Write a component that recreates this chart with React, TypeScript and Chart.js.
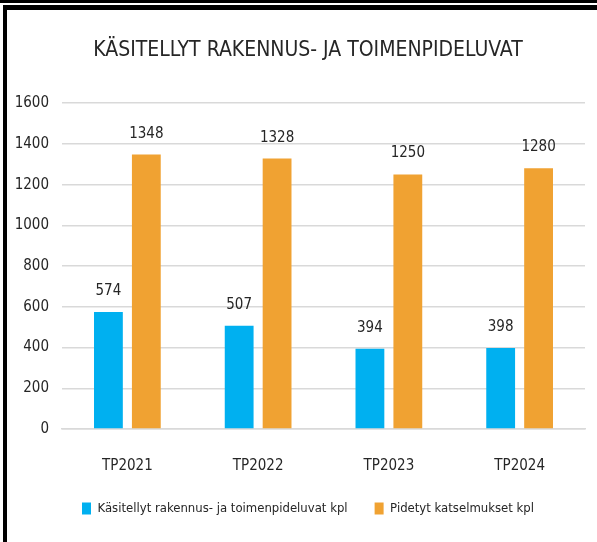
import React, { useEffect, useRef } from "react";
import { Chart, registerables } from "chart.js";

Chart.register(...registerables);

const categories = ["TP2021", "TP2022", "TP2023", "TP2024"];
const processedPermits = [574, 507, 394, 398];
const heldInspections = [1348, 1328, 1250, 1280];
const seriesNames = [
  "Käsitellyt rakennus- ja toimenpideluvat kpl",
  "Pidetyt katselmukset kpl",
];
const titleText = "KÄSITELLYT RAKENNUS- JA TOIMENPIDELUVAT";

const FONT = "'Liberation Sans Narrow', 'DejaVu Sans Condensed', 'Roboto Condensed', 'Liberation Sans', sans-serif";

const valueLabels = {
  id: "valueLabels",
  afterDatasetsDraw(chart: any) {
    const ctx = chart.ctx;
    ctx.save();
    ctx.font = `15px ${FONT}`;
    ctx.fillStyle = "#262626";
    ctx.textAlign = "center";
    ctx.textBaseline = "alphabetic";
    chart.data.datasets.forEach((ds: any, di: number) => {
      const meta = chart.getDatasetMeta(di);
      meta.data.forEach((bar: any, i: number) => {
        ctx.fillText(String(ds.data[i]), bar.x, bar.y - 17);
      });
    });
    ctx.restore();
  },
};

export default function App() {
  const ref = useRef<HTMLCanvasElement>(null);
  useEffect(() => {
    if (!ref.current) return;
    const chart = new Chart(ref.current, {
      type: "bar",
      data: {
        labels: categories,
        datasets: [
          {
            label: seriesNames[0],
            data: processedPermits,
            backgroundColor: "#00B0F0",
            barPercentage: 0.76,
            categoryPercentage: 0.58,
          },
          {
            label: seriesNames[1],
            data: heldInspections,
            backgroundColor: "#F0A232",
            barPercentage: 0.76,
            categoryPercentage: 0.58,
          },
        ],
      },
      options: {
        animation: false,
        responsive: false,
        devicePixelRatio: 1,
        layout: { padding: { left: 1, right: -18, top: 0, bottom: 17 } },
        plugins: {
          title: {
            display: true,
            text: titleText,
            color: "#262626",
            font: { family: FONT, size: 21, weight: "normal" },
            padding: { top: 38, bottom: 40 },
          },
          legend: {
            position: "bottom",
            labels: {
              boxWidth: 9,
              boxHeight: 12,
              color: "#262626",
              font: { family: FONT, size: 13 },
              padding: 27,
            },
          },
          tooltip: { enabled: false },
        },
        scales: {
          x: {
            afterFit: (s: any) => {
              s.height = 46;
            },
            grid: { display: false, drawTicks: false },
            border: { display: true, color: "#D9D9D9", width: 1.5 },
            ticks: { color: "#262626", font: { family: FONT, size: 15 }, padding: 28 },
          },
          y: {
            min: 0,
            max: 1600,
            afterFit: (s: any) => {
              s.width = 61;
            },
            grid: { color: "#D9D9D9", lineWidth: 1.5, drawTicks: false },
            border: { display: false },
            ticks: {
              stepSize: 200,
              color: "#262626",
              font: { family: FONT, size: 15 },
              padding: 13,
              callback: (v: any) => String(v),
            },
          },
          spacer: {
            type: "linear",
            position: "right",
            min: 0,
            max: 1600,
            afterFit: (s: any) => {
              s.width = 30;
            },
            grid: { display: false, drawTicks: false },
            border: { display: false },
            ticks: { display: false },
          },
        },
      },
      plugins: [valueLabels],
    });
    return () => chart.destroy();
  }, []);

  return (
    <div style={{ position: "fixed", left: 0, top: 0, width: 597, height: 542, background: "#fff", overflow: "hidden" }}>
      <canvas ref={ref} width={597} height={542} style={{ position: "absolute", left: 0, top: 0, width: 597, height: 542 }} />
      <div style={{ position: "absolute", left: 0, top: 0, width: 597, height: 3, background: "#000" }} />
      <div style={{ position: "absolute", left: 3, top: 5, width: 594, height: 5, background: "#000" }} />
      <div style={{ position: "absolute", left: 3, top: 5, width: 4, height: 537, background: "#000" }} />
    </div>
  );
}
